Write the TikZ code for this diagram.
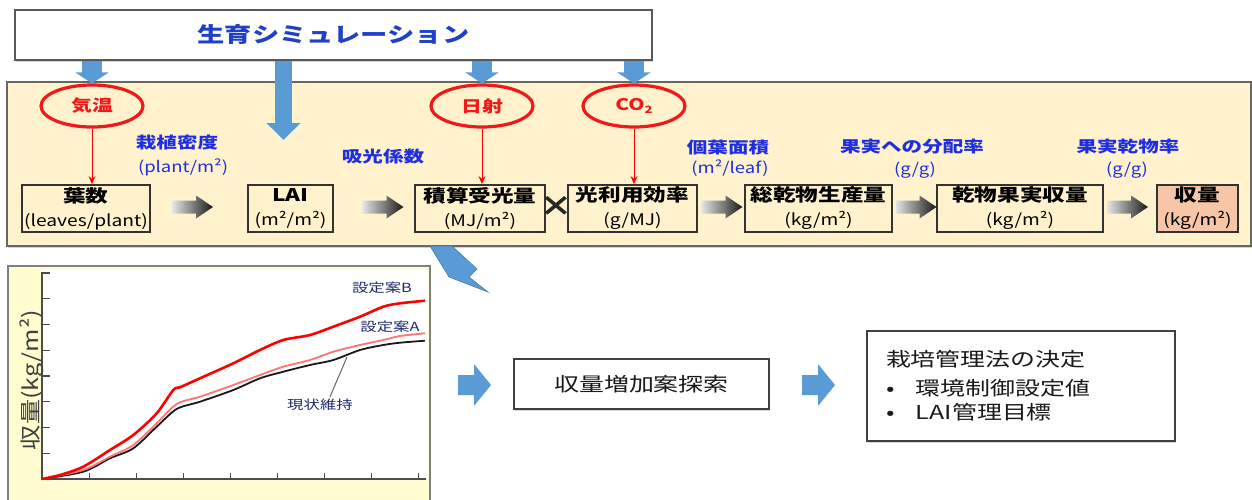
\documentclass[tikz,border=0pt]{standalone}
\usepackage{fontspec}
\setmainfont{Noto Sans CJK JP}
\newfontfamily\jpA[FakeStretch=1.3]{Noto Sans CJK JP}
\newfontfamily\jpB[FakeStretch=1.2]{Noto Sans CJK JP}
\usetikzlibrary{arrows.meta,shapes.geometric,calc,shadows}
\definecolor{beige}{HTML}{FFF2CC}
\definecolor{lblue}{HTML}{5B9BD5}
\definecolor{tblue}{HTML}{2040C8}
\definecolor{labblue}{HTML}{1E2EE0}
\definecolor{myred}{HTML}{F01818}
\definecolor{peach}{HTML}{F6C6A6}
\definecolor{chartbg}{HTML}{FFFDD0}
\definecolor{navy}{HTML}{1F2A6B}
\newcommand\ffA[2]{\jpA\fontsize{#1}{#2}\selectfont}
\newcommand\ffB[2]{\jpB\fontsize{#1}{#2}\selectfont}
\newcommand\mainT[1]{{\ffA{8.7pt}{10pt}\bfseries #1}}
\newcommand\unitT[1]{{\ffB{8pt}{10pt}#1}}
% gray shaded block arrow centred at (#1)
\newcommand\grayarrow[1]{%
  \shade[shift={(#1)}, left color=black!10, right color=black!90]
    (-20.5,-6.5) -- (3.5,-6.5) -- (3.5,-11.5) -- (20.5,0) -- (3.5,11.5)
    -- (3.5,6.5) -- (-20.5,6.5) -- cycle;}
% blue block arrow centred at (#1)
\newcommand\bluearrow[1]{%
  \fill[lblue, shift={(#1)}]
    (-16,-10) -- (0,-10) -- (0,-21) -- (17,0) -- (0,21) -- (0,10) -- (-16,10) -- cycle;}
\begin{document}
\begin{tikzpicture}[x=0.5pt,y=-0.5pt,
  panelbox/.style={draw=black!60, line width=0.8pt, fill=beige, inner sep=0pt,
    drop shadow={shadow xshift=0.6pt, shadow yshift=-1.2pt, fill=black!35}},
  titlebox/.style={draw=black!65, line width=1pt, fill=white, inner sep=0pt,
    drop shadow={shadow xshift=0.6pt, shadow yshift=-1.2pt, fill=black!35}},
  stepbox/.style={draw=black!80, line width=0.9pt, fill=beige, inner sep=0pt,
    align=center, minimum height=23.5pt},
  ell/.style={ellipse, draw=myred, line width=1.6pt, minimum width=51pt,
    minimum height=21pt, inner sep=0pt, text=myred, font=\ffA{8pt}{9pt}\bfseries},
  bluearr/.style={draw=lblue, line width=10pt, -{Triangle[width=16.5pt,length=5.5pt]}},
  bluearrlong/.style={draw=lblue, line width=8.5pt, -{Triangle[width=16.5pt,length=8.5pt]}},
  redarr/.style={draw=red, line width=0.5pt, -{Stealth[length=4pt,width=3.5pt]}},
  lab/.style={text=labblue, font=\ffA{7.9pt}{9pt}\bfseries, inner sep=0pt},
  labu/.style={text=labblue, font=\ffB{7.7pt}{9pt}, inner sep=0pt},
  chartlab/.style={text=navy, font=\ffA{6.3pt}{7.5pt}, inner sep=0pt},
  whitebox/.style={draw=black!75, line width=0.9pt, fill=white, inner sep=0pt,
    drop shadow={shadow xshift=0.5pt, shadow yshift=-0.8pt, fill=black!30}},
]
\useasboundingbox (0,0) rectangle (1252,499);

% panel and title
\node[panelbox, minimum width=622pt, minimum height=82pt] (panel) at (629,164) {};
\node[titlebox, minimum width=318.5pt, minimum height=25pt] (title) at (333.5,35)
  {\ffA{10.5pt}{12pt}\bfseries\color{tblue}生育シミュレーション};

% ellipses
\node[ell] (e1) at (92,106) {気温};
\node[ell] (e2) at (482,106) {日射};
\node[ell] (e3) at (634,106) {CO\raisebox{-0.4ex}{\ffA{5pt}{6pt}2}};

% step boxes
\node[stepbox, minimum width=64pt] (leaf) at (86,208.5) {\mainT{葉数}\\\unitT{(leaves/plant)}};
\node[stepbox, minimum width=42.5pt] (lai) at (290.5,208.5) {\mainT{LAI}\\\unitT{(m²/m²)}};
\node[stepbox, minimum width=65pt] (light) at (480,208.5) {\mainT{積算受光量}\\\unitT{(MJ/m²)}};
\node[stepbox, minimum width=64.5pt] (lue) at (632.5,208.5) {\mainT{光利用効率}\\\unitT{(g/MJ)}};
\node[stepbox, minimum width=73.5pt] (tdm) at (818.5,208.5) {\mainT{総乾物生産量}\\\unitT{(kg/m²)}};
\node[stepbox, minimum width=83pt] (fruit) at (1020,208.5) {\mainT{乾物果実収量}\\\unitT{(kg/m²)}};
\node[stepbox, minimum width=40.5pt, fill=peach] (yield) at (1197.5,208.5) {\mainT{収量}\\\unitT{(kg/m²)}};

% gray arrows between boxes
\grayarrow{192.5,207}
\grayarrow{383,207}
\grayarrow{722,207}
\grayarrow{916,207}
\grayarrow{1127.5,207}
\node[font=\ffB{14pt}{15pt}\bfseries, text=black!85, inner sep=0pt] (times) at (556,206) {×};

% blue arrows from simulation
\draw[bluearr] (title.south -| e1.north) -- (e1.north);
\draw[bluearr] (title.south -| e2.north) -- (e2.north);
\draw[bluearr] (title.south -| e3.north) -- (e3.north);
\coordinate (laiIn) at (283.5,140);
\draw[bluearrlong] (title.south -| laiIn) -- (laiIn);

% red arrows
\draw[redarr] (e1.south) -- (e1.south |- leaf.north);
\draw[redarr] (e2.south) -- (e2.south |- light.north);
\draw[redarr] (e3.south) -- (e3.south |- lue.north);

% blue labels
\node[lab] (l1) at (177,143) {栽植密度};
\node[labu] (l1u) at (183,167) {(plant/m²)};
\node[lab] (l2) at (383,157) {吸光係数};
\node[lab] (l3) at (728,148) {個葉面積};
\node[labu] (l3u) at (730,168) {(m²/leaf)};
\node[lab] (l4) at (912,147) {果実への分配率};
\node[labu] (l4u) at (915,170) {(g/g)};
\node[lab] (l5) at (1128,147) {果実乾物率};
\node[labu] (l5u) at (1127,170) {(g/g)};

% bent blue arrow
\fill[lblue, draw=lblue!80!black, line width=0.3pt]
  (430,246) -- (452,246) -- (477,269) -- (469,277) -- (488,292) -- (449,277) -- cycle;

% chart
\draw[draw=black!50, line width=0.7pt, fill=chartbg] (8,266) rectangle (430,505);
\fill[white] (42,270) rectangle (428,479);
\draw[black!70, line width=0.6pt] (42,272) -- (42,479) -- (426,479);
\foreach \k in {1,...,8} {
  \draw[black!70, line width=0.6pt] (42,479-25.75*\k) -- (50,479-25.75*\k);
  \draw[black!70, line width=0.6pt] (42+47.1*\k,479) -- (42+47.1*\k,473);
}
\draw[black!90, line width=0.9pt] plot[smooth, tension=0.5] coordinates {
 (41.7,479) (83.3,471.7) (110,458.3) (133.3,448.3) (156.7,426.7) (176.7,409) (200,401.7)
 (233.3,390) (260,378.3) (283.3,371.7) (310,365) (333.3,360) (360,350) (383.3,345) (400,342.7) (425,340.7)};
\draw[red!55!white, line width=0.9pt] plot[smooth, tension=0.5] coordinates {
 (41.7,479) (83.3,470) (110,456.7) (133.3,445) (156.7,423.3) (176.7,404) (200,396.7)
 (233.3,385) (260,375) (283.3,366.7) (310,360) (333.3,351.7) (360,345) (383.3,340) (400,336) (425,333.3)};
\draw[red, line width=1.3pt] plot[smooth, tension=0.5] coordinates {
 (41.7,479) (60,475) (83.3,466.7) (110,450) (133.3,435) (156.7,413.3) (173.3,390) (180,387.3)
 (200,378.3) (233.3,363.3) (260,350) (283.3,340) (310,335) (333.3,326.7) (360,316.7) (383.3,306.7) (400,303.3) (425,300.7)};
\node[chartlab] (cB) at (382,288) {設定案B};
\node[chartlab] (cA) at (390,327) {設定案A};
\node[chartlab] (cN) at (320,405) {現状維持};
\coordinate (lead) at (347,357);
\draw[black!60, line width=0.5pt] ([xshift=5pt,yshift=1pt]cN.north) -- (lead);
\node[rotate=90, text=black!75, font=\ffB{10.5pt}{12pt}, inner sep=0pt] (ylab) at (32,380) {収量(kg/m²)};

% lower flow
\bluearrow{474,385}
\node[whitebox, minimum width=127.5pt, minimum height=25pt] (search) at (641.5,384)
  {\ffA{9.6pt}{11pt}\color{black!90}収量増加案探索};
\bluearrow{818,385}
\node[whitebox, minimum width=154pt, minimum height=55pt, text width=135pt, align=left] (decide) at (1021,386)
  {\ffA{9.6pt}{14.5pt}\color{black!90}栽培管理法の決定\\
   \makebox[15pt][l]{•}環境制御設定値\\
   \makebox[15pt][l]{•}LAI管理目標};
\end{tikzpicture}
\end{document}
